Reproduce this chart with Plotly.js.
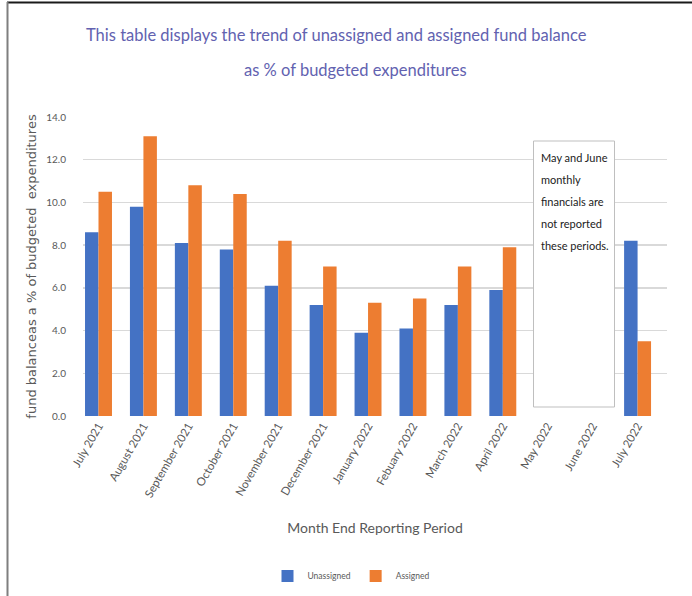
<!DOCTYPE html>
<html>
<head>
<meta charset="utf-8">
<script src="https://cdn.plot.ly/plotly-3.0.1.min.js"></script>
<style>html,body{margin:0;padding:0;background:#fff;}#chart{width:692px;height:596px;}</style>
</head>
<body>
<div id="chart"></div>
<script>
const months = ["July 2021","August 2021","September 2021","October 2021","November 2021","December 2021","January 2022","Febuary 2022","March 2022","April 2022","May 2022","June 2022","July 2022"];
const unassigned = [8.6, 9.8, 8.1, 7.8, 6.1, 5.2, 3.9, 4.1, 5.2, 5.9, 0, 0, 8.2];
const assigned = [10.5, 13.1, 10.8, 10.4, 8.2, 7.0, 5.3, 5.5, 7.0, 7.9, 0, 0, 3.5];
const yTicks = [0, 2, 4, 6, 8, 10, 12, 14];
const noteLines = ["May and June", "monthly", "financials are", "not reported", "these periods."];

// pixel -> paper helpers (plot area: x 83..667, y 117..416)
const L = 83, R = 667, T = 117, B = 416;
const pxX = x => (x - L) / (R - L);
const pxY = y => (B - y) / (B - T);

const sans = 'Lato, "Liberation Sans", sans-serif';
const gray = '#595959';

const traces = [
  {type: 'bar', name: 'Unassigned', x: months, y: unassigned, marker: {color: '#4472C4'}},
  {type: 'bar', name: 'Assigned', x: months, y: assigned, marker: {color: '#ED7D31'}}
];

const titleFont = {family: sans, size: 16.5, color: '#6262B0'};
const annotations = [
  {xref: 'paper', yref: 'paper', x: pxX(336), y: pxY(35), text: 'This table displays the trend of unassigned and assigned fund balance',
   showarrow: false, xanchor: 'center', yanchor: 'middle', font: titleFont},
  {xref: 'paper', yref: 'paper', x: pxX(355), y: pxY(70), text: 'as % of budgeted expenditures',
   showarrow: false, xanchor: 'center', yanchor: 'middle', font: titleFont}
];
noteLines.forEach((t, i) => {
  annotations.push({xref: 'paper', yref: 'paper', x: pxX(539), y: pxY(157 + i * 22), text: t,
    showarrow: false, xanchor: 'left', yanchor: 'middle', align: 'left',
    font: {family: sans, size: 11, color: '#222222'}});
});

const shapes = [
  {type: 'rect', xref: 'paper', yref: 'paper', x0: pxX(533.5), x1: pxX(614.5), y0: pxY(141), y1: pxY(407),
   fillcolor: '#ffffff', line: {color: '#BFBFBF', width: 1}, layer: 'above'},
  {type: 'line', xref: 'paper', yref: 'paper', x0: pxX(7), x1: pxX(692), y0: pxY(2.5), y1: pxY(2.5),
   line: {color: '#1a1a1a', width: 2}},
  {type: 'line', xref: 'paper', yref: 'paper', x0: pxX(7.5), x1: pxX(7.5), y0: pxY(2), y1: pxY(600),
   line: {color: '#7f7f7f', width: 2}}
];

const layout = {
  width: 692, height: 596,
  margin: {l: L, r: 692 - R, t: T, b: 596 - B, autoexpand: false},
  paper_bgcolor: '#ffffff', plot_bgcolor: '#ffffff',
  showlegend: true,
  barmode: 'group', bargap: 0.4, bargroupgap: 0,
  xaxis: {
    type: 'category', range: [-0.345, 12.655], tickangle: -60,
    tickfont: {family: sans, size: 11.5, color: gray},
    showgrid: false, zeroline: false, showline: false, ticks: '',
    automargin: false,
    title: {text: 'Month End Reporting Period', font: {family: sans, size: 14, color: gray}, standoff: 24}
  },
  yaxis: {
    range: [0, 14], tickvals: yTicks, tickformat: '.1f',
    tickfont: {family: sans, size: 10, color: gray},
    showgrid: true, gridcolor: '#D9D9D9', gridwidth: 1.3,
    zeroline: false, showline: false, ticks: '', ticklabelstandoff: 16,
    automargin: false,
    title: {text: 'fund balanceas a % of budgeted  expenditures', font: {family: '"DejaVu Sans", sans-serif', size: 13, color: gray}, standoff: 6}
  },
  legend: {orientation: 'h', x: pxX(351), y: pxY(576), xanchor: 'center', yanchor: 'middle',
    font: {family: sans, size: 8.5, color: gray}, itemwidth: 30, bgcolor: 'rgba(0,0,0,0)'},
  annotations: annotations,
  shapes: shapes
};

Plotly.newPlot('chart', traces, layout, {displayModeBar: false, staticPlot: true});
</script>
</body>
</html>
